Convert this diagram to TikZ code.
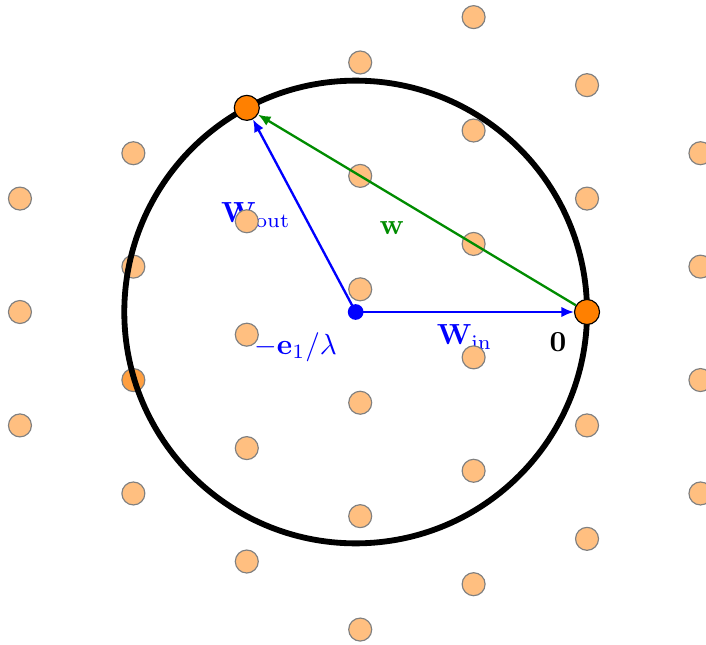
\documentclass[tikz,border=0pt]{standalone}
\usepackage{xcolor}
\usepackage{amsmath}
\usepackage{tikz}
\usetikzlibrary{arrows.meta,positioning}

\begin{document}
\begin{tikzpicture}[
    x=1.37cm, y=1.37cm,
    latpt/.style={circle, draw=gray, fill=orange!50, inner sep=0pt, minimum size=7.9pt, thin},
    hitpt/.style={circle, draw=black, fill=orange, inner sep=0pt, minimum size=8.6pt, thin},
    ctrpt/.style={circle, fill=blue, inner sep=0pt, minimum size=5.4pt},
    lbl/.style={inner sep=1pt},
    vec/.style={-{Latex[length=4.3pt,width=3.6pt]}, thick}
]
    \useasboundingbox (-5.176,-2.928) rectangle (1.049,2.751);

    % Labels
    \node[lbl, text=blue] (lwout) at (-2.92,0.855) {$\mathbf{W}_{\mathrm{out}}$};
    \node[lbl, text=green!55!black] (lw) at (-1.72,0.74) {$\mathbf{w}$};
    \node[lbl, text=blue] (lwin) at (-1.08,-0.22) {$\mathbf{W}_{\mathrm{in}}$};
    \node[lbl, text=blue] (lctr) at (-2.57,-0.31) {$-\mathbf{e}_1/\lambda$};
    \node[lbl] (lzero) at (-0.256,-0.265) {$\mathbf{0}$};

    % Lattice
    \foreach \x/\y [count=\i] in {1/1.4, 1/0.4, 1/-0.6, 1/-1.6,
                                  0/2, 0/1, 0/-1, 0/-2,
                                  -1/2.6, -1/1.6, -1/0.6, -1/-0.4, -1/-1.4, -1/-2.4,
                                  -2/2.2, -2/1.2, -2/0.2, -2/-0.8, -2/-1.8, -2/-2.8,
                                  -3/0.8, -3/-0.2, -3/-1.2, -3/-2.2,
                                  -4/1.4, -4/0.4, -4/-1.6,
                                  -5/1, -5/0, -5/-1}
        \node[latpt] (lat\i) at (\x,\y) {};
    \node[latpt, fill=orange!75] (latc) at (-4,-0.6) {};

    % Sphere
    \coordinate (ctr) at (-2.04,0);
    \draw[line width=2pt] (ctr) circle (2.04);

    % Points on the sphere
    \node[hitpt] (zero) at (0,0) {};
    \node[hitpt] (wout) at (-3,1.8) {};
    \node[ctrpt] (dot) at (ctr) {};

    % Vectors
    \draw[vec, blue] (dot.center) -- (zero);
    \draw[vec, blue] (dot.center) -- (wout);
    \draw[vec, green!55!black] (zero) -- (wout);
\end{tikzpicture}
\end{document}
